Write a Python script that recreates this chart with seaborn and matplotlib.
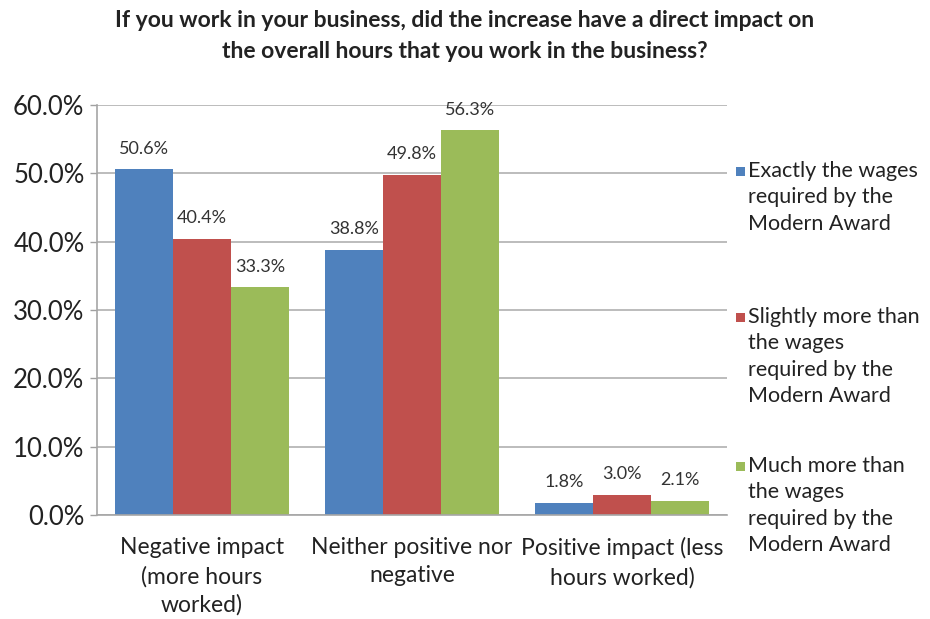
import matplotlib
matplotlib.use("Agg")
import matplotlib.pyplot as plt
import matplotlib.patches as mpatches
import seaborn as sns
import pandas as pd

categories = [
    "Negative impact\n(more hours\nworked)",
    "Neither positive nor\nnegative",
    "Positive impact (less\nhours worked)",
]
series_names = [
    "Exactly the wages\nrequired by the\nModern Award",
    "Slightly more than\nthe wages\nrequired by the\nModern Award",
    "Much more than\nthe wages\nrequired by the\nModern Award",
]
exactly = [50.6, 38.8, 1.8]
slightly_more = [40.4, 49.8, 3.0]
much_more = [33.3, 56.3, 2.1]
colors = ["#4F81BD", "#C0504D", "#9BBB59"]
y_ticks = [0, 10, 20, 30, 40, 50, 60]

title = ("If you work in your business, did the increase have a direct impact on\n"
         "the overall hours that you work in the business?")

rows = []
for name, vals in zip(series_names, [exactly, slightly_more, much_more]):
    for cat, v in zip(categories, vals):
        rows.append({"category": cat, "series": name, "value": v})
df = pd.DataFrame(rows)

sns.set_theme(style="white")
plt.rcParams["font.family"] = ["Lato", "DejaVu Sans"]

fig = plt.figure(figsize=(9.3, 6.19), dpi=100)
ax = fig.add_axes([97 / 930, 1 - 515 / 619, 630 / 930, 410 / 619])

sns.barplot(data=df, x="category", y="value", hue="series",
            palette=colors, width=0.83, saturation=1, ax=ax,
            order=categories, hue_order=series_names, legend=False,
            linewidth=0, edgecolor="none")

for container in ax.containers:
    ax.bar_label(container, fmt="%.1f%%", padding=9, fontsize=13, color="#333333")

ax.set_ylim(0, 60)
ax.set_xlim(-0.5, 2.5)
ax.set_yticks(y_ticks)
ax.set_yticklabels([f"{t:.1f}%" for t in y_ticks], fontsize=18.5, color="#222222")
ax.tick_params(axis="x", labelsize=16.5, colors="#222222", length=0, pad=16)
for lbl in ax.get_xticklabels():
    lbl.set_linespacing(1.42)
ax.tick_params(axis="y", length=5, width=1, color="#A0A0A0", left=True, pad=4)
ax.set_xlabel("")
ax.set_ylabel("")
ax.yaxis.grid(True, color="#B0B0B0", linewidth=1.2)
ax.set_axisbelow(True)
for side in ["top", "right"]:
    ax.spines[side].set_visible(False)
ax.spines["left"].set_color("#A6A6A6")
ax.spines["bottom"].set_color("#A6A6A6")
ax.spines["left"].set_linewidth(1.2)
ax.spines["bottom"].set_linewidth(1.2)

fig.text(0.5, 1 - 36 / 619, title, ha="center", va="center", fontsize=16.5,
         fontweight="bold", color="#222222", linespacing=1.55)

# Legend entries: square marker beside the first line of each wrapped label
legend_tops = [161, 307, 456]
for name, color, top in zip(series_names, colors, legend_tops):
    fig.patches.append(mpatches.Rectangle(
        (736 / 930, 1 - (top + 15) / 619), 9 / 930, 9 / 619,
        transform=fig.transFigure, facecolor=color, edgecolor="none"))
    fig.text(748 / 930, 1 - top / 619, name, ha="left", va="top",
             fontsize=15.5, color="#222222", linespacing=1.4)

fig.savefig("out.png", dpi=100)
